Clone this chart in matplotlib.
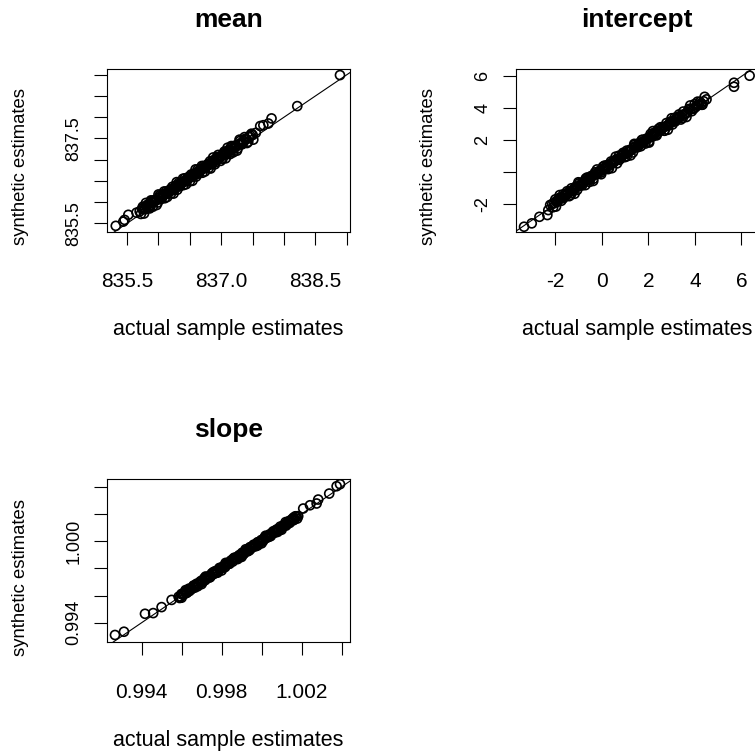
import matplotlib
matplotlib.use('Agg')
import matplotlib.pyplot as plt

plt.rcParams['font.family'] = ['Liberation Sans', 'DejaVu Sans']

# ---- datos ----
mean_actual = [835.32, 835.44, 835.46, 835.52, 835.65, 835.70, 835.74, 835.76, 835.78, 835.81,
               835.84, 835.87, 835.90, 835.93, 835.95, 835.98, 836.01, 836.03, 836.06, 836.08,
               836.11, 836.13, 836.16, 836.18, 836.21, 836.23, 836.26, 836.28, 836.31, 836.33,
               836.36, 836.38, 836.41, 836.43, 836.46, 836.48, 836.51, 836.53, 836.56, 836.58,
               836.61, 836.63, 836.66, 836.68, 836.71, 836.73, 836.76, 836.78, 836.81, 836.84,
               836.86, 836.89, 836.92, 836.94, 836.97, 837.00, 837.03, 837.06, 837.09, 837.12,
               837.15, 837.18, 837.21, 837.24, 837.28, 837.32, 837.36, 837.40, 837.45, 837.50,
               837.55, 837.62, 837.67, 837.75, 837.80, 838.21, 838.89,
               835.72, 835.75, 835.79, 835.82, 835.86, 835.89, 835.92, 835.96, 835.99, 836.02,
               836.04, 836.07, 836.10, 836.12, 836.15, 836.17, 836.20, 836.22, 836.25, 836.27,
               836.30, 836.32, 836.35, 836.37, 836.40, 836.42, 836.45, 836.47, 836.50, 836.52,
               836.55, 836.57, 836.60, 836.62, 836.65, 836.67, 836.70, 836.72, 836.75, 836.77,
               836.80, 836.82, 836.85, 836.88, 836.90, 836.93, 836.96, 836.98, 837.02, 837.05,
               837.08, 837.11, 837.14, 837.17, 837.20, 837.23, 837.26, 837.30, 837.34, 837.38,
               837.43, 837.48,
               835.77, 835.80, 835.85, 835.88, 835.91, 835.94, 835.97, 836.00, 836.05, 836.09,
               836.14, 836.19, 836.24, 836.29, 836.34, 836.39, 836.44, 836.49, 836.54, 836.59,
               836.64, 836.69, 836.74, 836.79, 836.83, 836.87, 836.91, 836.95, 836.99, 837.04,
               837.07, 837.10, 837.13, 837.16, 837.19, 837.22, 837.25, 837.29, 837.33, 837.37,
               837.41, 837.46, 837.51]
mean_synth = [835.44, 835.54, 835.58, 835.70, 835.75, 835.78, 835.84, 835.86, 835.85, 835.90,
              835.95, 835.93, 835.99, 836.02, 836.04, 836.05, 836.10, 836.13, 836.12, 836.17,
              836.20, 836.19, 836.25, 836.28, 836.27, 836.32, 836.35, 836.34, 836.40, 836.42,
              836.43, 836.47, 836.50, 836.49, 836.55, 836.57, 836.58, 836.62, 836.65, 836.64,
              836.70, 836.72, 836.73, 836.77, 836.80, 836.79, 836.85, 836.87, 836.88, 836.93,
              836.95, 836.96, 837.01, 837.03, 837.04, 837.09, 837.11, 837.13, 837.17, 837.20,
              837.22, 837.26, 837.29, 837.31, 837.36, 837.40, 837.43, 837.48, 837.53, 837.58,
              837.63, 837.79, 837.81, 837.85, 837.97, 838.26, 838.99,
              835.72, 835.89, 835.83, 835.93, 835.85, 836.02, 835.98, 836.05, 835.99, 836.16,
              836.08, 836.18, 836.09, 836.25, 836.21, 836.26, 836.20, 836.36, 836.29, 836.38,
              836.29, 836.45, 836.41, 836.46, 836.40, 836.56, 836.49, 836.58, 836.49, 836.65,
              836.61, 836.66, 836.60, 836.76, 836.69, 836.78, 836.69, 836.85, 836.81, 836.86,
              836.80, 836.96, 836.89, 836.99, 836.89, 837.06, 837.02, 837.07, 837.02, 837.19,
              837.12, 837.22, 837.13, 837.30, 837.26, 837.32, 837.26, 837.44, 837.38, 837.49,
              837.42, 837.61,
              835.73, 835.98, 835.88, 836.04, 835.89, 836.05, 835.93, 836.18, 836.08, 836.25,
              836.12, 836.30, 836.20, 836.47, 836.37, 836.55, 836.42, 836.60, 836.50, 836.77,
              836.67, 836.85, 836.72, 836.90, 836.79, 837.05, 836.94, 837.11, 836.97, 837.15,
              837.03, 837.28, 837.16, 837.32, 837.17, 837.33, 837.21, 837.47, 837.36, 837.53,
              837.39, 837.57, 837.47]

int_actual = [-3.33, -3.00, -2.67, -2.33, -2.29, -2.21, -2.12, -2.03, -1.95, -1.86,
              -1.78, -1.69, -1.60, -1.52, -1.43, -1.35, -1.26, -1.18, -1.09, -1.01,
              -0.92, -0.84, -0.75, -0.66, -0.58, -0.49, -0.41, -0.32, -0.24, -0.15,
              -0.07, 0.02, 0.10, 0.19, 0.27, 0.36, 0.44, 0.53, 0.61, 0.70,
              0.78, 0.87, 0.95, 1.04, 1.12, 1.21, 1.29, 1.38, 1.46, 1.55,
              1.63, 1.72, 1.80, 1.89, 1.97, 2.06, 2.14, 2.23, 2.31, 2.40,
              2.48, 2.57, 2.65, 2.74, 2.82, 2.91, 2.99, 3.08, 3.17, 3.26,
              3.35, 3.45, 3.56, 3.68, 3.80, 3.93, 4.05, 4.16, 4.28, 4.38,
              4.50, 5.68, 5.68, 6.35,
              -2.08, -1.99, -1.90, -1.82, -1.73, -1.65, -1.56, -1.47, -1.39, -1.30,
              -1.22, -1.13, -1.05, -0.96, -0.88, -0.79, -0.70, -0.62, -0.53, -0.45,
              -0.36, -0.28, -0.19, -0.11, -0.02, 0.06, 0.15, 0.23, 0.32, 0.40,
              0.49, 0.57, 0.66, 0.74, 0.83, 0.91, 1.00, 1.08, 1.17, 1.25,
              1.34, 1.42, 1.51, 1.59, 1.68, 1.76, 1.85, 1.93, 2.02, 2.10,
              2.19, 2.27, 2.36, 2.44, 2.53, 2.61, 2.70, 2.78, 2.87, 2.95,
              3.04, 3.13, 3.22, 3.31, 3.40, 3.50, 3.62, 3.74, 3.87, 3.99,
              4.11, 4.22, 4.33, 4.42,
              -1.96, -1.80, -1.64, -1.48, -1.32, -1.16, -1.00, -0.84, -0.68, -0.52,
              -0.36, -0.20, -0.04, 0.12, 0.28, 0.44, 0.60, 0.76, 0.92, 1.08,
              1.24, 1.40, 1.56, 1.72, 1.88, 2.04, 2.20, 2.36, 2.52, 2.68,
              2.84, 3.00, 3.16, 3.32, 3.48, 3.64, 3.80, 3.96, 4.12, 4.30]
int_synth = [-3.40, -3.19, -2.78, -2.67, -2.36, -2.04, -1.98, -1.92, -1.80, -1.74,
             -1.62, -1.58, -1.44, -1.40, -1.30, -1.18, -1.12, -1.04, -0.92, -0.88,
             -0.80, -0.66, -0.62, -0.52, -0.40, -0.38, -0.26, -0.14, -0.12, 0.00,
             0.10, 0.13, 0.26, 0.35, 0.38, 0.52, 0.60, 0.64, 0.78, 0.86,
             0.89, 1.04, 1.12, 1.15, 1.30, 1.38, 1.40, 1.56, 1.63, 1.66,
             1.82, 1.88, 1.92, 2.05, 2.12, 2.17, 2.32, 2.38, 2.42, 2.57,
             2.63, 2.68, 2.82, 2.87, 2.92, 3.07, 3.12, 3.18, 3.32, 3.37,
             3.44, 3.58, 3.64, 3.78, 3.92, 4.00, 4.10, 4.22, 4.31, 4.44,
             4.56, 5.60, 5.35, 6.04,
             -2.18, -1.69, -1.85, -1.60, -1.78, -1.37, -1.46, -1.29, -1.49, -1.00,
             -1.17, -0.91, -1.10, -0.68, -0.78, -0.61, -0.80, -0.32, -0.48, -0.23,
             -0.41, 0.00, -0.09, 0.07, -0.12, 0.36, 0.20, 0.45, 0.27, 0.68,
             0.59, 0.75, 0.56, 1.04, 0.88, 1.13, 0.95, 1.36, 1.27, 1.43,
             1.24, 1.72, 1.56, 1.81, 1.63, 2.04, 1.95, 2.11, 1.92, 2.40,
             2.24, 2.49, 2.31, 2.72, 2.63, 2.79, 2.60, 3.08, 2.92, 3.17,
             2.99, 3.41, 3.32, 3.49, 3.30, 3.80, 3.67, 3.96, 3.82, 4.27,
             4.21, 4.40, 4.23, 4.72,
             -2.14, -1.42, -1.62, -1.18, -1.40, -1.34, -0.62, -0.82, -0.38, -0.60,
             -0.54, 0.18, -0.02, 0.42, 0.20, 0.26, 0.98, 0.78, 1.22, 1.00,
             1.06, 1.78, 1.58, 2.02, 1.80, 1.86, 2.58, 2.38, 2.82, 2.60,
             2.66, 3.38, 3.18, 3.62, 3.40, 3.46, 4.18, 3.98, 4.42, 4.22]

slope_actual = [0.99267, 0.99312, 0.99417, 0.99458, 0.99500, 0.99550,
                0.99585, 0.99594, 0.99604, 0.99613, 0.99623, 0.99632, 0.99642, 0.99651, 0.99661, 0.99670,
                0.99680, 0.99689, 0.99699, 0.99708, 0.99718, 0.99727, 0.99737, 0.99746, 0.99756, 0.99765,
                0.99775, 0.99784, 0.99794, 0.99803, 0.99813, 0.99822, 0.99832, 0.99841, 0.99851, 0.99860,
                0.99870, 0.99879, 0.99889, 0.99898, 0.99908, 0.99917, 0.99927, 0.99936, 0.99946, 0.99955,
                0.99965, 0.99974, 0.99984, 0.99993, 1.00003, 1.00012, 1.00022, 1.00031, 1.00041, 1.00050,
                1.00060, 1.00069, 1.00079, 1.00088, 1.00098, 1.00107, 1.00117, 1.00126, 1.00136, 1.00145,
                1.00155, 1.00164, 1.00174, 1.00183,
                1.00208, 1.00242, 1.00275, 1.00283, 1.00338, 1.00375, 1.00392,
                0.99590, 0.99599, 0.99609, 0.99618, 0.99628, 0.99637, 0.99647, 0.99656, 0.99666, 0.99675,
                0.99685, 0.99694, 0.99704, 0.99713, 0.99723, 0.99732, 0.99742, 0.99751, 0.99761, 0.99770,
                0.99780, 0.99789, 0.99799, 0.99808, 0.99818, 0.99827, 0.99837, 0.99846, 0.99856, 0.99865,
                0.99875, 0.99884, 0.99894, 0.99903, 0.99913, 0.99922, 0.99932, 0.99941, 0.99951, 0.99960,
                0.99970, 0.99979, 0.99989, 0.99998, 1.00008, 1.00017, 1.00027, 1.00036, 1.00046, 1.00055,
                1.00065, 1.00074, 1.00084, 1.00093, 1.00103, 1.00112, 1.00122, 1.00131, 1.00141, 1.00150,
                1.00160, 1.00169,
                0.99600, 0.99620, 0.99640, 0.99660, 0.99680, 0.99700, 0.99720, 0.99740, 0.99760, 0.99780,
                0.99800, 0.99820, 0.99840, 0.99860, 0.99880, 0.99900, 0.99920, 0.99940, 0.99960, 0.99980,
                1.00000, 1.00020, 1.00040, 1.00060, 1.00080, 1.00100, 1.00120, 1.00140, 1.00160, 1.00178]
slope_synth = [0.99310, 0.99334, 0.99466, 0.99471, 0.99515, 0.99568,
               0.99591, 0.99591, 0.99613, 0.99614, 0.99618, 0.99639, 0.99644, 0.99649, 0.99671, 0.99674,
               0.99686, 0.99686, 0.99708, 0.99709, 0.99713, 0.99734, 0.99739, 0.99744, 0.99766, 0.99769,
               0.99781, 0.99781, 0.99803, 0.99804, 0.99808, 0.99829, 0.99834, 0.99839, 0.99861, 0.99864,
               0.99876, 0.99876, 0.99898, 0.99899, 0.99903, 0.99924, 0.99929, 0.99934, 0.99956, 0.99959,
               0.99971, 0.99971, 0.99993, 0.99994, 0.99998, 1.00019, 1.00024, 1.00029, 1.00051, 1.00054,
               1.00066, 1.00066, 1.00088, 1.00089, 1.00093, 1.00114, 1.00119, 1.00124, 1.00146, 1.00149,
               1.00161, 1.00161, 1.00183, 1.00184,
               1.00240, 1.00264, 1.00277, 1.00306, 1.00350, 1.00404, 1.00419,
               0.99582, 0.99611, 0.99606, 0.99628, 0.99622, 0.99651, 0.99647, 0.99663, 0.99658, 0.99687,
               0.99682, 0.99704, 0.99698, 0.99727, 0.99723, 0.99739, 0.99734, 0.99763, 0.99758, 0.99780,
               0.99774, 0.99803, 0.99799, 0.99815, 0.99810, 0.99839, 0.99834, 0.99856, 0.99850, 0.99879,
               0.99875, 0.99891, 0.99886, 0.99915, 0.99910, 0.99932, 0.99926, 0.99955, 0.99951, 0.99967,
               0.99962, 0.99991, 0.99986, 1.00008, 1.00002, 1.00031, 1.00027, 1.00043, 1.00038, 1.00067,
               1.00062, 1.00084, 1.00078, 1.00107, 1.00103, 1.00119, 1.00114, 1.00143, 1.00138, 1.00160,
               1.00154, 1.00183,
               0.99584, 0.99640, 0.99634, 0.99674, 0.99668, 0.99684, 0.99740, 0.99734, 0.99774, 0.99768,
               0.99784, 0.99840, 0.99834, 0.99874, 0.99868, 0.99884, 0.99940, 0.99934, 0.99974, 0.99968,
               0.99984, 1.00040, 1.00034, 1.00074, 1.00068, 1.00084, 1.00140, 1.00134, 1.00174, 1.00166]

mean_xticks = [835.5, 836.0, 836.5, 837.0, 837.5, 838.0, 838.5, 839.0]
mean_xlabels = ['835.5', '', '', '837.0', '', '', '838.5', '']
mean_yticks = [835.5, 836.0, 836.5, 837.0, 837.5, 838.0, 838.5, 839.0]
mean_ylabels = ['835.5', '', '', '', '837.5', '', '', '']

int_xticks = [-2, 0, 2, 4, 6]
int_xlabels = ['-2', '0', '2', '4', '6']
int_yticks = [-2, 0, 2, 4, 6]
int_ylabels = ['-2', '', '2', '4', '6']

slope_xticks = [0.994, 0.996, 0.998, 1.000, 1.002, 1.004]
slope_xlabels = ['0.994', '', '0.998', '', '1.002', '']
slope_yticks = [0.994, 0.996, 0.998, 1.000, 1.002, 1.004]
slope_ylabels = ['0.994', '', '', '1.000', '', '']

fig = plt.figure(figsize=(7.55, 7.54), dpi=100)


def panel(rect, xs, ys, titulo, xlim, ylim, xt, xl, yt, yl):
    ax = fig.add_axes(rect)
    ax.scatter(xs, ys, s=42, facecolors='none', edgecolors='black', linewidths=1.2, zorder=3)
    ax.axline((xs[0], xs[0]), slope=1, color='black', lw=0.8, zorder=2)
    ax.set_xlim(xlim)
    ax.set_ylim(ylim)
    ax.set_xticks(xt, xl)
    ax.set_yticks(yt, yl)
    ax.tick_params(direction='out', length=9.5, width=0.8)
    ax.tick_params(axis='x', pad=19.5, labelsize=15)
    ax.tick_params(axis='y', pad=8, labelsize=13, labelrotation=90)
    plt.setp(ax.get_yticklabels(), va='center')
    for s in ax.spines.values():
        s.set_linewidth(0.8)
    ax.set_title(titulo, fontsize=19, fontweight='bold', pad=30)
    ax.set_xlabel('actual sample estimates', fontsize=15.5)
    ax.xaxis.set_label_coords(0.5, -0.60)
    ax.xaxis.label.set_va('center')
    ax.set_ylabel('synthetic estimates', fontsize=13.3)
    ax.yaxis.set_label_coords(-0.357, 0.40)
    ax.yaxis.label.set_va('center')
    return ax


panel([0.1417, 0.6923, 0.3219, 0.2162], mean_actual, mean_synth, 'mean',
      (835.18, 839.05), (835.295, 839.134), mean_xticks, mean_xlabels, mean_yticks, mean_ylabels)
panel([0.6830, 0.6923, 0.3219, 0.2162], int_actual, int_synth, 'intercept',
      (-3.69, 6.74), (-3.73, 6.46), int_xticks, int_xlabels, int_yticks, int_ylabels)
panel([0.1417, 0.1481, 0.3219, 0.2166], slope_actual, slope_synth, 'slope',
      (0.99227, 1.00442), (0.99256, 1.00457), slope_xticks, slope_xlabels, slope_yticks, slope_ylabels)

fig.savefig('out.png', dpi=100)
